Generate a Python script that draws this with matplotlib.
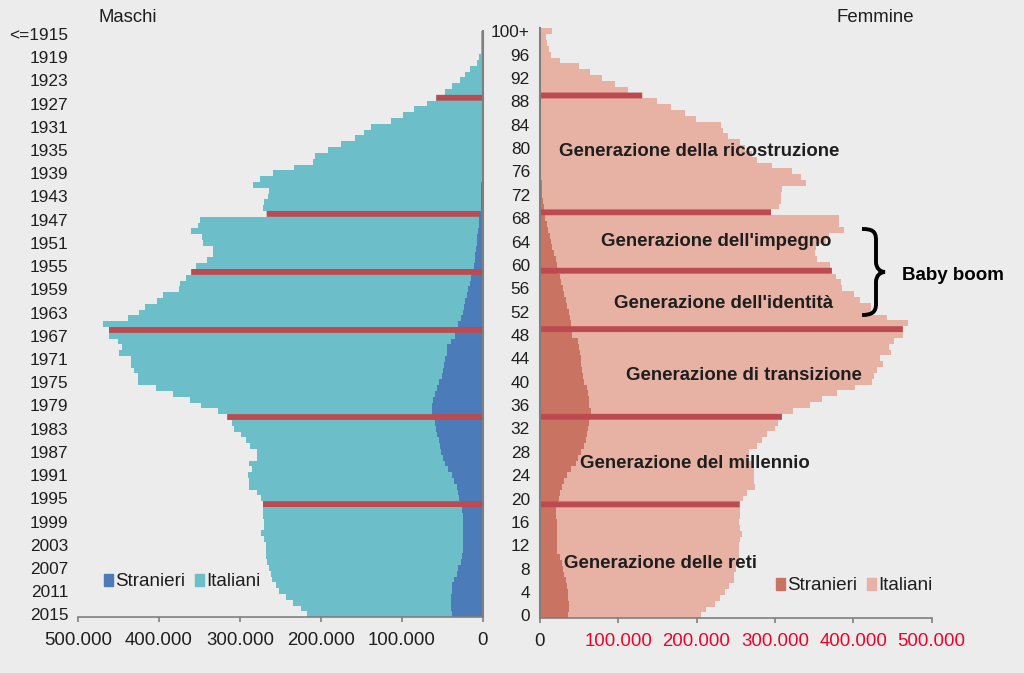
import matplotlib
matplotlib.use("Agg")
import matplotlib.pyplot as plt
from matplotlib.patches import PathPatch, Patch, Rectangle
from matplotlib.path import Path
from matplotlib.transforms import Affine2D

plt.rcParams["font.family"] = ["Liberation Sans", "DejaVu Sans"]

# =========================
# Data (thousands of people), top row = oldest
# =========================
maschi_totale = [
    2.9, 2.5, 2.5, 2.9, 4.5, 7.8, 15.6, 21.8, 28.4, 37.9,
    46.9, 57.6, 69.5, 84.8, 98.8, 114.0, 137.9, 146.9, 158.4, 175.7,
    190.9, 207.4, 210.3, 233.3, 259.7, 274.9, 284.3, 263.8, 265.0, 270.4,
    272.0, 267.1, 349.8, 351.8, 360.9, 347.3, 345.2, 333.7, 333.7, 340.3,
    354.7, 360.1, 366.6, 373.6, 375.3, 394.6, 402.0, 416.9, 424.3, 438.7,
    469.5, 461.7, 461.7, 450.2, 445.2, 448.9, 434.5, 434.5, 431.3, 425.5,
    425.5, 404.1, 382.7, 362.1, 348.5, 327.1, 315.6, 309.4, 307.0, 299.2,
    292.6, 288.1, 279.4, 279.4, 289.3, 285.6, 290.1, 288.5, 289.3, 279.4,
    274.1, 271.6, 271.6, 271.2, 270.4, 270.4, 274.5, 270.4, 268.3, 268.3,
    268.3, 267.1, 263.8, 262.1, 260.1, 255.5, 251.4, 243.2, 235.0, 224.7,
    217.7,
]
maschi_stranieri = [
    0.3, 0.3, 0.3, 0.3, 0.4, 0.4, 0.4, 0.4, 0.5, 0.5,
    0.5, 0.5, 0.6, 0.6, 0.6, 0.7, 0.7, 0.8, 0.8, 0.9,
    0.9, 1.0, 1.1, 1.2, 1.3, 1.5, 2.0, 2.0, 2.2, 2.4,
    2.6, 3.7, 4.5, 5.3, 6.2, 7.0, 7.8, 8.6, 9.5, 10.3,
    11.5, 14.0, 15.2, 16.5, 18.1, 20.2, 21.8, 23.5, 25.1, 27.6,
    30.9, 33.3, 35.0, 39.9, 44.0, 44.9, 46.9, 47.7, 49.8, 50.6,
    53.9, 57.2, 59.3, 61.3, 62.5, 63.0, 62.1, 59.7, 58.0, 56.4,
    54.7, 53.1, 51.4, 49.8, 47.3, 42.8, 38.7, 35.8, 32.5, 30.5,
    29.2, 27.2, 25.5, 24.7, 24.3, 24.3, 24.3, 24.7, 24.7, 25.1,
    26.3, 27.6, 30.5, 32.5, 35.8, 38.3, 38.7, 39.1, 39.9, 39.9,
    38.3,
]
femmine_totale = [
    15.6, 8.3, 9.6, 11.3, 14.8, 25.6, 49.5, 64.7, 79.1, 96.4,
    112.5, 130.8, 149.4, 168.1, 185.1, 199.4, 230.7, 233.3, 240.7, 255.0,
    262.4, 271.1, 277.6, 296.3, 321.9, 333.2, 339.3, 308.9, 308.0, 308.0,
    305.0, 295.0, 382.3, 381.4, 387.9, 368.4, 365.8, 352.3, 350.6, 354.0,
    370.1, 372.7, 377.9, 384.0, 386.2, 401.0, 408.3, 422.2, 423.1, 443.5,
    470.0, 463.1, 463.1, 451.3, 445.7, 448.3, 434.4, 438.3, 429.6, 426.6,
    424.0, 402.7, 379.7, 360.1, 344.9, 323.2, 308.9, 303.7, 299.7, 289.3,
    283.2, 277.6, 266.7, 267.6, 270.2, 273.2, 273.7, 273.2, 274.5, 264.6,
    258.9, 255.0, 255.9, 255.0, 254.6, 255.0, 258.0, 255.0, 253.7, 253.7,
    253.7, 252.4, 250.2, 248.0, 247.2, 242.0, 236.3, 229.8, 223.3, 212.4,
    205.9,
]
femmine_stranieri = [
    0.3, 0.3, 0.3, 0.3, 0.3, 0.4, 0.4, 0.4, 0.4, 0.5,
    0.5, 0.5, 0.5, 0.6, 0.6, 0.6, 0.7, 0.7, 0.7, 0.8,
    0.9, 1.0, 1.2, 1.5, 1.8, 2.0, 2.3, 3.0, 3.5, 4.0,
    5.0, 5.5, 6.8, 8.7, 10.6, 12.5, 14.4, 16.3, 18.2, 20.2,
    22.1, 23.5, 25.9, 27.6, 29.3, 31.0, 33.2, 34.9, 37.0, 38.7,
    40.0, 40.5, 41.7, 49.3, 50.2, 51.4, 52.3, 52.7, 54.0, 54.8,
    57.0, 59.9, 61.2, 62.5, 63.4, 65.0, 64.6, 62.9, 62.1, 60.4,
    58.7, 56.5, 52.7, 49.3, 45.9, 40.0, 34.4, 31.5, 28.1, 26.4,
    24.7, 23.0, 20.8, 21.3, 21.7, 22.5, 22.5, 22.1, 22.1, 22.5,
    25.5, 28.1, 29.8, 31.0, 33.2, 34.4, 35.7, 36.6, 37.4, 37.4,
    36.1,
]

# rows where a generation begins, drawn in red
righe_generazioni = [11, 31, 41, 51, 66, 81]

righe_tick = list(range(0, 101, 4))
anni_labels = ["<=1915"] + [str(a) for a in range(1919, 2016, 4)]
eta_labels = ["100+"] + [str(a) for a in range(96, -1, -4)]
x_tick_valori = [0, 100, 200, 300, 400, 500]
x_tick_labels = ["0", "100.000", "200.000", "300.000", "400.000", "500.000"]

generazioni = [
    ("Generazione della ricostruzione", 559, 152),
    ("Generazione dell'impegno", 601, 241),
    ("Generazione dell'identità", 614, 304),
    ("Generazione di transizione", 626, 376),
    ("Generazione del millennio", 580, 463),
    ("Generazione delle reti", 564, 564),
]

SFONDO = "#ECECEC"
TESTO = "#1E1E1E"
ASSE = "#7F7F7F"
ROSSO = "#BC4A50"
W, H = 1024, 675


def box(x0, y0, x1, y1):
    # pixel box of the reference -> figure fraction
    return [x0 / W, 1 - y1 / H, (x1 - x0) / W, (y1 - y0) / H]


fig = plt.figure(figsize=(W / 100, H / 100), dpi=100, facecolor=SFONDO)
ax_m = fig.add_axes(box(78, 31, 483, 617.3))
ax_f = fig.add_axes(box(539.7, 28.3, 931.7, 618.3))

# thin darker band along the bottom edge
fig.add_artist(Rectangle((0, 0), 1, 2.5 / H, transform=fig.transFigure, facecolor="#D8D8D8", linewidth=0))

righe = list(range(len(maschi_totale)))

# =========================
# Maschi
# =========================
italiani_m = [t - s for t, s in zip(maschi_totale, maschi_stranieri)]
ax_m.barh(righe, maschi_stranieri, height=1, color="#4B7BB8", linewidth=0)
ax_m.barh(righe, italiani_m, left=maschi_stranieri, height=1, color="#6CBFC8", linewidth=0)
for r in righe_generazioni:
    inizio = maschi_stranieri[r] if r == 31 else 0
    ax_m.barh(r, maschi_totale[r] - inizio, left=inizio, height=1, color=ROSSO, linewidth=0, zorder=3, snap=False)

ax_m.set_xlim(500, 0)
ax_m.set_ylim(100.5, -0.5)
ax_m.set_yticks(righe_tick)
ax_m.set_yticklabels(anni_labels)
ax_m.set_xticks(x_tick_valori)
ax_m.set_xticklabels(x_tick_labels)
ax_m.spines["left"].set_visible(False)
ax_m.spines["top"].set_visible(False)
ax_m.tick_params(axis="y", length=0, pad=7, labelsize=12.4, labelcolor=TESTO)
ax_m.tick_params(axis="x", length=3.6, width=1.2, color=ASSE, pad=7, labelsize=13.4, labelcolor=TESTO)

# =========================
# Femmine
# =========================
italiani_f = [t - s for t, s in zip(femmine_totale, femmine_stranieri)]
ax_f.barh(righe, femmine_stranieri, height=1, color="#C97463", linewidth=0)
ax_f.barh(righe, italiani_f, left=femmine_stranieri, height=1, color="#E7B1A4", linewidth=0)
for r in righe_generazioni:
    ax_f.barh(r, femmine_totale[r], height=1, color=ROSSO, linewidth=0, zorder=3, snap=False)

ax_f.set_xlim(0, 500)
ax_f.set_ylim(100.5, -0.5)
ax_f.set_yticks(righe_tick)
ax_f.set_yticklabels(eta_labels)
ax_f.set_xticks(x_tick_valori)
ax_f.set_xticklabels(x_tick_labels)
ax_f.spines["right"].set_visible(False)
ax_f.spines["top"].set_visible(False)
ax_f.tick_params(axis="y", length=0, pad=7, labelsize=12.4, labelcolor=TESTO)
ax_f.tick_params(axis="x", length=3.6, width=1.2, color=ASSE, pad=7, labelsize=13.4, labelcolor="#E4062D")
ax_f.get_xticklabels()[0].set_color(TESTO)

for ax, lato in [(ax_m, "right"), (ax_f, "left")]:
    ax.set_facecolor("none")
    ax.spines[lato].set_color(ASSE)
    ax.spines[lato].set_linewidth(1.5)
    ax.spines[lato].set_zorder(4)
    ax.spines["bottom"].set_color(ASSE)
    ax.spines["bottom"].set_linewidth(1.2)

# =========================
# Legends
# =========================
def legenda(ax, col_s, col_i, x, y):
    maniglie = [Patch(color=col_s, label="Stranieri"), Patch(color=col_i, label="Italiani")]
    ax.legend(
        handles=maniglie,
        ncol=2,
        frameon=False,
        loc="center left",
        bbox_to_anchor=(x / W, 1 - y / H),
        bbox_transform=fig.transFigure,
        fontsize=13.6,
        handlelength=0.5,
        handleheight=0.55,
        handletextpad=0.1,
        columnspacing=0.5,
        borderpad=0,
        borderaxespad=0,
        labelcolor=TESTO,
    )


legenda(ax_m, "#4B7BB8", "#6CBFC8", 104, 582)
legenda(ax_f, "#C97463", "#E7B1A4", 776, 586)

# =========================
# Text
# =========================
fig.text(98 / W, 1 - 17.5 / H, "Maschi", fontsize=13.3, color=TESTO, va="center")
fig.text(836 / W, 1 - 17.5 / H, "Femmine", fontsize=13.4, color=TESTO, va="center")
for testo, x, y in generazioni:
    fig.text(x / W, 1 - y / H, testo, fontsize=13.4, fontweight="bold", color=TESTO, va="center", zorder=5)
fig.text(902 / W, 1 - 276 / H, "Baby boom", fontsize=13.5, fontweight="bold", color="black", va="center")

# curly brace, in reference pixels
px_to_display = Affine2D().scale(1, -1).translate(0, H)
graffa = Path(
    [
        (862, 229),
        (872, 229), (876, 231), (876, 240),
        (876, 262),
        (876, 268), (880, 272), (885, 272),
        (880, 272), (876, 276), (876, 282),
        (876, 304),
        (876, 312), (872, 315), (862, 315),
    ],
    [Path.MOVETO]
    + [Path.CURVE4] * 3
    + [Path.LINETO]
    + [Path.CURVE4] * 6
    + [Path.LINETO]
    + [Path.CURVE4] * 3,
)
fig.add_artist(PathPatch(graffa, transform=px_to_display, fill=False, edgecolor="black", linewidth=2.8, capstyle="butt"))

fig.savefig("out.png", dpi=100, facecolor=SFONDO)
